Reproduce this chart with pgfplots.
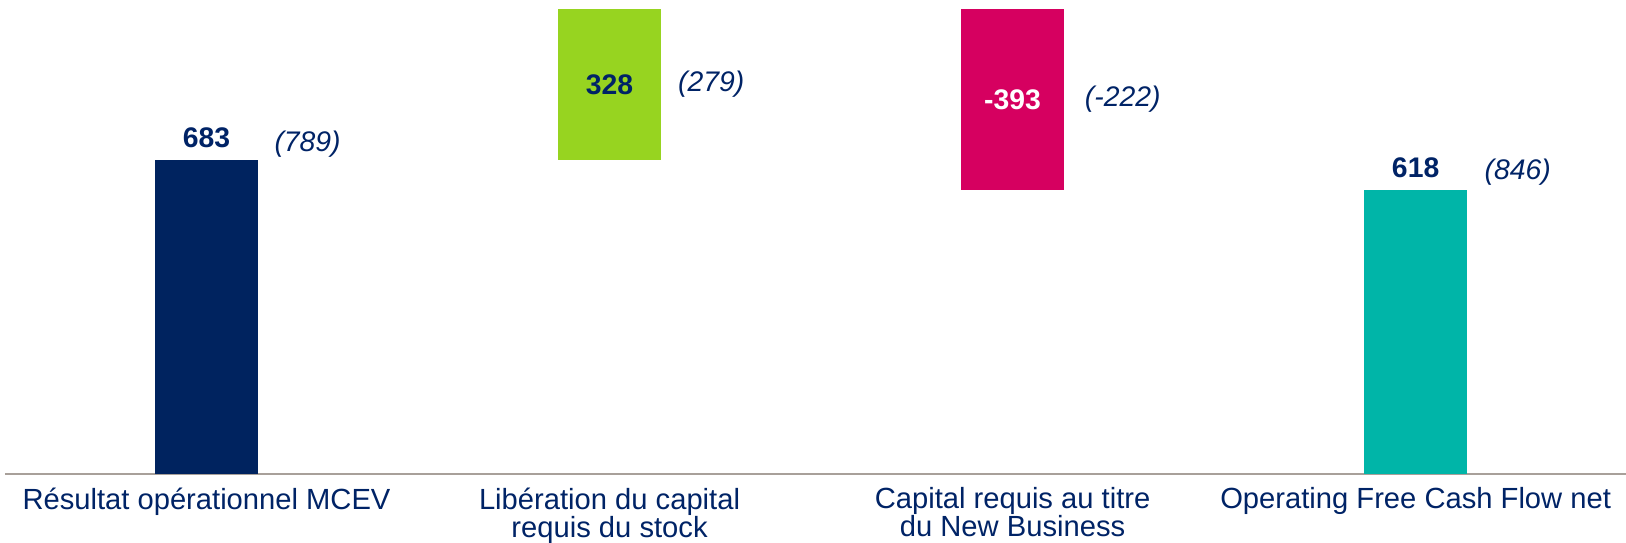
\documentclass[border=0pt]{standalone}
\usepackage{fontspec}
\setmainfont{Liberation Sans}
\usepackage{pgfplots}
\pgfplotsset{compat=1.18}

\definecolor{navy}{HTML}{00235F}
\definecolor{txt}{HTML}{002366}
\definecolor{lime}{HTML}{97D420}
\definecolor{magenta}{HTML}{D60060}
\definecolor{teal}{HTML}{00B5A8}
\definecolor{axisgray}{HTML}{A8A09A}

\tikzset{
  val/.style={inner sep=0pt, text=txt, font=\fontsize{8.5}{10}\selectfont\bfseries},
  prev/.style={inner sep=0pt, text=txt, font=\fontsize{8.5}{10}\selectfont\itshape},
}

\begin{document}
\begin{tikzpicture}
\begin{axis}[
  at={(0,0)}, anchor=south west,
  scale only axis,
  width=486.3pt, height=142.2pt,
  ybar stacked, bar width=30.9pt,
  xmin=-0.5, xmax=3.522,
  ymin=0, ymax=1031,
  hide y axis,
  axis x line*=bottom,
  x axis line style={draw=axisgray, line width=0.6pt},
  xtick={0,1,2,3},
  major tick length=0pt,
  xticklabels={R\'esultat op\'erationnel MCEV,
               Lib\'eration du capital\\requis du stock,
               Capital requis au titre\\du New Business,
               Operating Free Cash Flow net},
  xticklabel style={align=center, anchor=north, inner sep=0pt, yshift=-3.9pt,
                    text=txt, font=\fontsize{8.75}{8.4}\selectfont},
  clip=false,
]
% invisible base of the waterfall
\addplot[draw=none, fill=none] coordinates {(0,0) (1,683) (2,618) (3,0)};
\addplot[draw=none, fill=navy]    coordinates {(0,683) (1,0) (2,0) (3,0)};
\addplot[draw=none, fill=lime]    coordinates {(0,0) (1,328) (2,0) (3,0)};
\addplot[draw=none, fill=magenta] coordinates {(0,0) (1,0) (2,393) (3,0)};
\addplot[draw=none, fill=teal]    coordinates {(0,0) (1,0) (2,0) (3,618)};

\coordinate (t0) at (axis cs:0,683);
\coordinate (m1) at (axis cs:1,847);
\coordinate (m2) at (axis cs:2,814.5);
\coordinate (t3) at (axis cs:3,618);
\end{axis}

% value labels and prior-year figures
\node[val, anchor=base, yshift=3.6pt] at (t0) {683};
\node[prev, anchor=base west, xshift=20.2pt, yshift=2.5pt] at (t0) {(789)};

\node[val, anchor=center] at (m1) {328};
\node[prev, anchor=west, xshift=20.4pt] at (m1) {(279)};

\node[val, anchor=center, text=white] at (m2) {-393};
\node[prev, anchor=west, xshift=21.5pt] at (m2) {(-222)};

\node[val, anchor=base, yshift=3.6pt] at (t3) {618};
\node[prev, anchor=base west, xshift=20.5pt, yshift=3pt] at (t3) {(846)};

\pgfresetboundingbox
\useasboundingbox (-1.5pt,-20.7pt) rectangle (486.3pt,142.2pt);
\end{tikzpicture}
\end{document}
